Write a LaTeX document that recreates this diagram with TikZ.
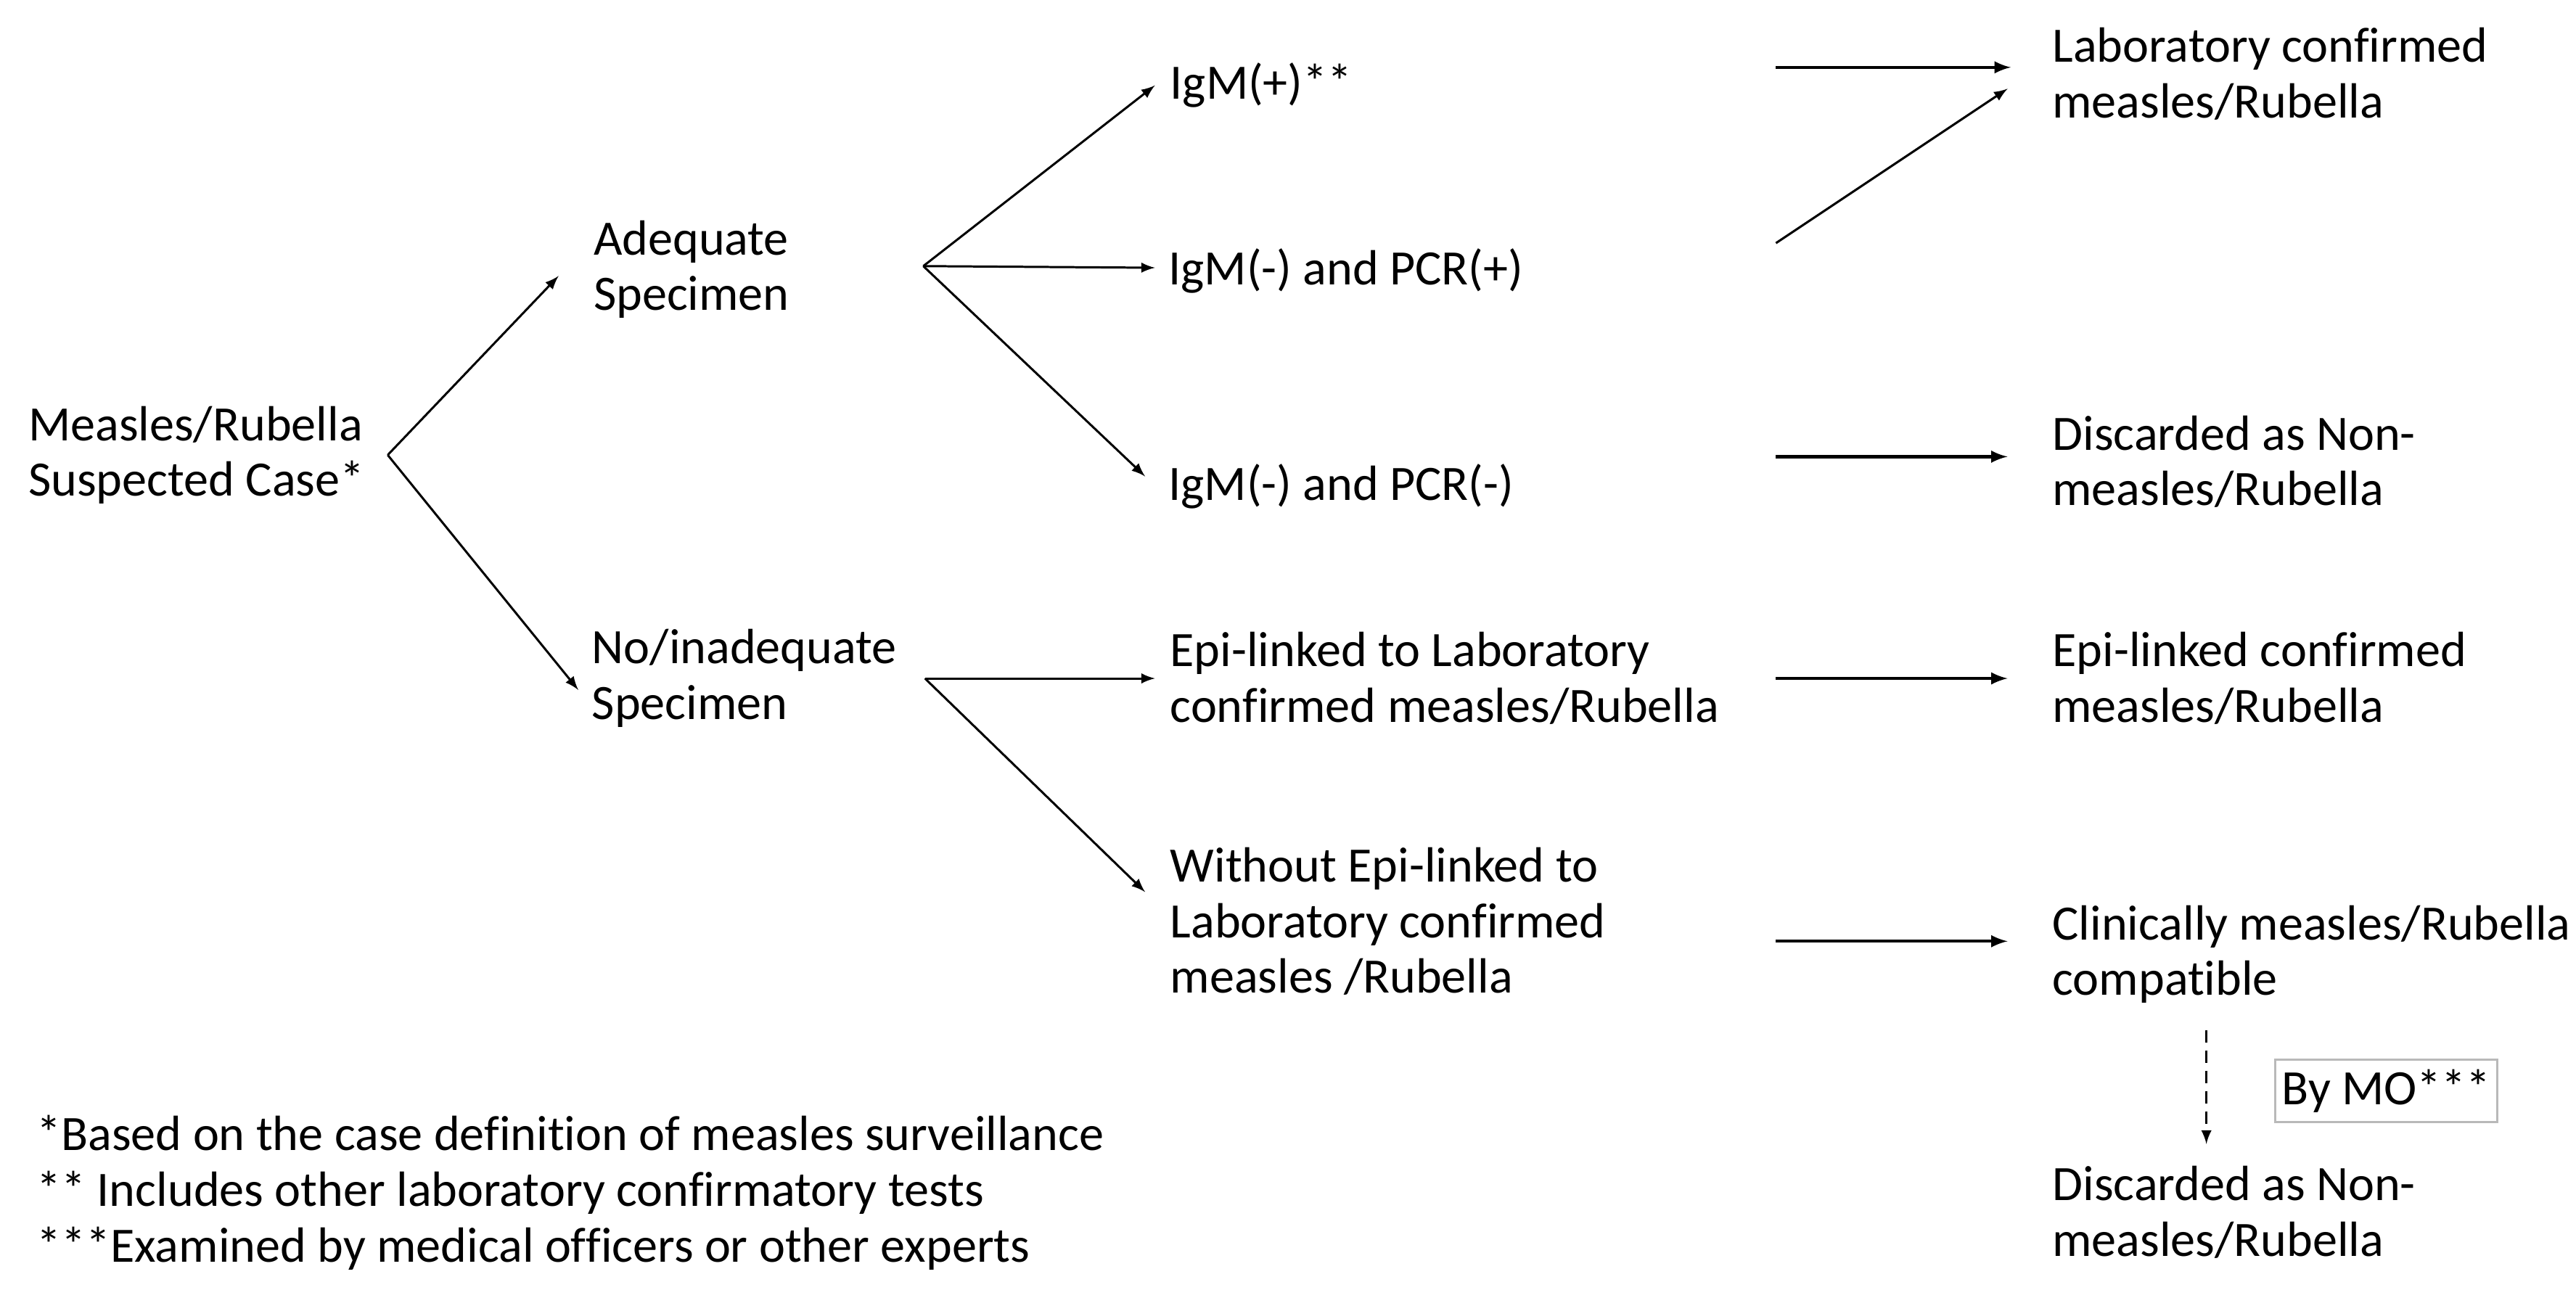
\documentclass[tikz,border=0pt]{standalone}
\usepackage{fontspec}
\setmainfont{Carlito}[Ligatures=NoCommon]
\begin{document}
\begin{tikzpicture}[x=0.02264cm,y=-0.02264cm,
    txt/.style={anchor=west,align=left,inner sep=0pt,font=\fontsize{19.4}{21.8}\selectfont},
    arr/.style={->,>=latex,line width=0.85pt},
    rarr/.style={->,>=latex,line width=1.2pt}]
    \useasboundingbox (0,0) rectangle (1568,790);
    % text columns
    \node[txt] (case) at (17,277) {Measles/Rubella\\Suspected Case*};
    \node[txt] (adeq) at (361,164) {Adequate\\Specimen};
    \node[txt] (noadeq) at (360,413) {No/inadequate\\Specimen};
    \node[txt] (igmpos) at (712,52) {IgM(+)**};
    \node[txt] (pcrpos) at (711,165) {IgM(-) and PCR(+)};
    \node[txt] (pcrneg) at (711,296) {IgM(-) and PCR(-)};
    \node[txt] (epi) at (712,413) {Epi-linked to Laboratory\\confirmed measles/Rubella};
    \node[txt] (noepi) at (712,561) {Without Epi-linked to\\Laboratory confirmed\\measles /Rubella};
    \node[txt] (labconf) at (1249,45) {Laboratory confirmed\\measles/Rubella};
    \node[txt] (discard) at (1249,281) {Discarded as Non-\\measles/Rubella};
    \node[txt] (epiconf) at (1249,413) {Epi-linked confirmed\\measles/Rubella};
    \node[txt] (clin) at (1249,581) {Clinically measles/Rubella\\compatible};
    \node[txt] (discard2) at (1249,738) {Discarded as Non-\\measles/Rubella};
    \node[txt,anchor=center,draw=gray!55,line width=0.8pt,minimum width=3.06cm,minimum height=0.86cm] (bymo) at (1452.5,664) {By MO***};
    \node[txt] (notes) at (22,726) {*Based on the case definition of measles surveillance\\** Includes other laboratory confirmatory tests\\***Examined by medical officers or other experts};
    % forks and free ends
    \coordinate (f0) at (236,277);
    \coordinate (f1) at (562,162);
    \coordinate (f2) at (563,413);
    \coordinate (r1) at (1081,41);
    \coordinate (r2) at (1081,148);
    \coordinate (r3) at (1081,278);
    \coordinate (r4) at (1081,413);
    \coordinate (r5) at (1081,573);
    \coordinate (d1) at (1343,627);
    % arrows
    \draw[arr] (f0) -- ([shift={(-21,4)}]adeq.west);
    \draw[arr] (f0) -- ([shift={(-8,7)}]noadeq.west);
    \draw[arr] (f1) -- ([shift={(-9,0)}]igmpos.west);
    \draw[arr] (f1) -- ([shift={(-8,-2)}]pcrpos.west);
    \draw[arr] (f1) -- ([shift={(-14,-6)}]pcrneg.west);
    \draw[arr] (f2) -- ([shift={(-9,0)}]epi.west);
    \draw[arr] (f2) -- ([shift={(-15,-18)}]noepi.west);
    \draw[rarr] (r1) -- ([shift={(-25,-4)}]labconf.west);
    \draw[arr] (r2) -- ([shift={(-27,9)}]labconf.west);
    \draw[rarr] (r3) -- ([shift={(-27,-3)}]discard.west);
    \draw[rarr] (r4) -- ([shift={(-27,0)}]epiconf.west);
    \draw[rarr] (r5) -- ([shift={(-27,-8)}]clin.west);
    \draw[arr,dash pattern=on 0.17cm off 0.11cm,shorten >=0.3cm] (d1) -- (d1 |- discard2.north);
\end{tikzpicture}
\end{document}
